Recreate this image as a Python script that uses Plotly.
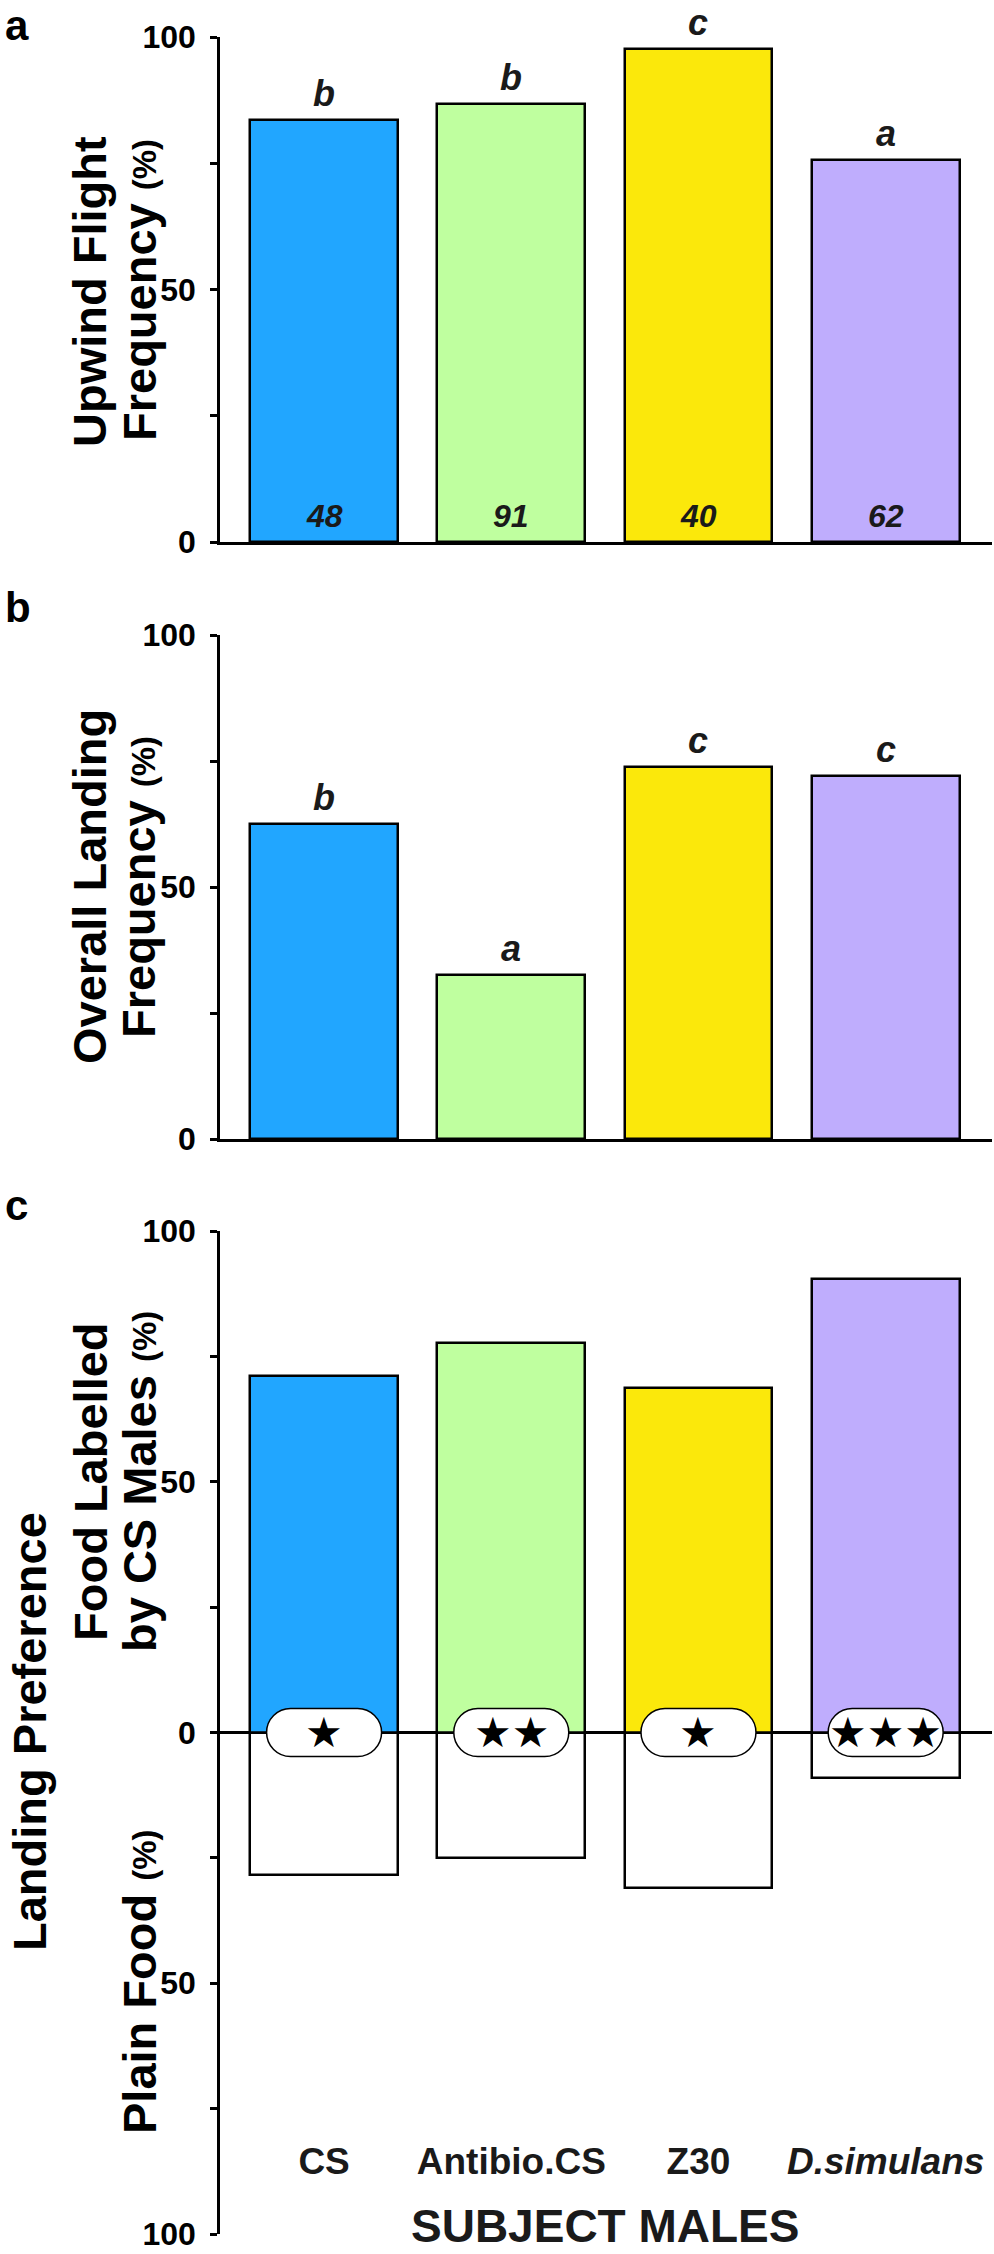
import plotly.graph_objects as go

# ---------------- data ----------------
categories = ["CS", "Antibio.CS", "Z30", "D.simulans"]
tick_labels = ["CS", "Antibio.CS", "Z30", "<i>D.simulans</i>"]
bar_colors = ["#21A6FF", "#BFFF9F", "#FBE80B", "#BFADFD"]

upwind = [83.5, 86.7, 97.6, 75.7]
upwind_letters = ["b", "b", "c", "a"]
upwind_n = ["48", "91", "40", "62"]

landing = [62.6, 32.5, 73.9, 72.1]
landing_letters = ["b", "a", "c", "c"]

labelled = [71.1, 77.6, 68.7, 90.5]
plain = [28.5, 25.1, 31.0, 9.1]
stars = ["★", "★★", "★", "★★★"]

yticks_ab = [0, 25, 50, 75, 100]
yticktext_ab = ["0", "", "50", "", "100"]
yticks_c = [-100, -75, -50, -25, 0, 25, 50, 75, 100]
yticktext_c = ["100", "", "50", "", "0", "", "50", "", "100"]

# ---------------- layout helpers ----------------
W, H = 994, 2254


def px(xp):
    return xp / W


def py(yp):
    return 1 - yp / H


FONT = "Liberation Sans"
xpos = list(range(len(categories)))
BAR_W = 0.79
XR = [-0.556, 3.568]
XDOM = [px(220), px(992)]

fig = go.Figure()

line_style = dict(color="black", width=2.5)
fig.add_trace(go.Bar(x=xpos, y=upwind, width=BAR_W, marker=dict(color=bar_colors, line=line_style),
                     xaxis="x", yaxis="y", showlegend=False, hoverinfo="skip"))
fig.add_trace(go.Bar(x=xpos, y=landing, width=BAR_W, marker=dict(color=bar_colors, line=line_style),
                     xaxis="x2", yaxis="y2", showlegend=False, hoverinfo="skip"))
fig.add_trace(go.Bar(x=xpos, y=labelled, width=BAR_W, marker=dict(color=bar_colors, line=line_style),
                     xaxis="x3", yaxis="y3", showlegend=False, hoverinfo="skip"))
fig.add_trace(go.Bar(x=xpos, y=[-v for v in plain], width=BAR_W, marker=dict(color="white", line=line_style),
                     xaxis="x3", yaxis="y3", showlegend=False, hoverinfo="skip"))

tickfont = dict(family=FONT, size=32, color="black", weight="bold")
yax_common = dict(showline=True, linewidth=2.5, linecolor="black", ticks="outside", ticklen=7, tickwidth=2.5,
                  tickcolor="black", showgrid=False, tickfont=tickfont, ticklabelstandoff=8, fixedrange=True,
                  automargin=False, ticklabeloverflow="allow")
xax_common = dict(domain=XDOM, range=XR, showgrid=False, zeroline=False, fixedrange=True, automargin=False)

fig.update_layout(
    template="none",
    width=W, height=H, margin=dict(l=0, r=0, t=0, b=0, pad=0, autoexpand=False),
    paper_bgcolor="white", plot_bgcolor="white", barmode="relative", bargap=0,
    xaxis=dict(**xax_common, anchor="y", showline=True, linewidth=2.5, linecolor="black", ticks="", showticklabels=False),
    yaxis=dict(**yax_common, domain=[py(542), py(37)], range=[0, 100], tickvals=yticks_ab, ticktext=yticktext_ab,
               zeroline=False, anchor="x"),
    xaxis2=dict(**xax_common, anchor="y2", showline=True, linewidth=2.5, linecolor="black", ticks="", showticklabels=False),
    yaxis2=dict(**yax_common, domain=[py(1139), py(635)], range=[0, 100], tickvals=yticks_ab, ticktext=yticktext_ab,
                zeroline=False, anchor="x2"),
    xaxis3=dict(**xax_common, anchor="free", position=py(2136), showline=False, ticks="",
                tickvals=xpos, ticktext=tick_labels, tickfont=dict(family=FONT, size=37, color="#1a1a1a", weight="bold")),
    yaxis3=dict(**yax_common, domain=[py(2234), py(1231)], range=[-100, 100], tickvals=yticks_c, ticktext=yticktext_c,
                zeroline=True, zerolinecolor="black", zerolinewidth=2.5, anchor="x3"),
)

ann = []
letter_font = dict(family=FONT, size=36, color="#1a1a1a", weight="bold", style="italic")
n_font = dict(family=FONT, size=32, color="#1a1a1a", weight="bold", style="italic")
for i in xpos:
    ann.append(dict(x=i, y=upwind[i], xref="x", yref="y", text=upwind_letters[i], showarrow=False,
                    yanchor="bottom", yshift=4, font=letter_font))
    ann.append(dict(x=i, y=0, xref="x", yref="y", text=upwind_n[i], showarrow=False,
                    yanchor="bottom", yshift=6, font=n_font))
    ann.append(dict(x=i, y=landing[i], xref="x2", yref="y2", text=landing_letters[i], showarrow=False,
                    yanchor="bottom", yshift=4, font=letter_font))
    ann.append(dict(x=i, y=0, xref="x3", yref="y3", text=stars[i], showarrow=False,
                    yanchor="middle", yshift=0, font=dict(family="DejaVu Sans", size=42, color="black")))

# x-axis title of panel c, centred under the categories
ann.append(dict(x=(xpos[0] + xpos[-1]) / 2, y=0, xref="x3", yref="paper", text="SUBJECT MALES",
                showarrow=False, xanchor="center", yanchor="bottom",
                font=dict(family=FONT, size=46, color="#1a1a1a", weight="bold")))

# pills behind the significance stars
half_len, rad = 33.5, 24
k = 0.5523 * rad
pill = (f"M {-half_len},{rad} L {half_len},{rad} "
        f"C {half_len + k},{rad} {half_len + rad},{k} {half_len + rad},0 "
        f"C {half_len + rad},{-k} {half_len + k},{-rad} {half_len},{-rad} "
        f"L {-half_len},{-rad} "
        f"C {-half_len - k},{-rad} {-half_len - rad},{-k} {-half_len - rad},0 "
        f"C {-half_len - rad},{k} {-half_len - k},{rad} {-half_len},{rad} Z")
shapes = []
for i in xpos:
    shapes.append(dict(type="path", xref="x3", yref="y3", xsizemode="pixel", ysizemode="pixel",
                       xanchor=i, yanchor=0, path=pill, fillcolor="white",
                       line=dict(color="black", width=1.5), layer="above"))

title_font = dict(family=FONT, size=47, color="black", weight="bold")
pct = "<span style='font-size:33px'>(%)</span>"


def ytitle(text, xp, yp):
    return dict(x=px(xp), y=py(yp), xref="paper", yref="paper", text=text, showarrow=False,
                textangle=-90, xanchor="center", yanchor="middle", font=title_font)


ann += [
    ytitle("Upwind Flight", 90, 292),
    ytitle("Frequency " + pct, 139, 290),
    ytitle("Overall Landing", 90, 887),
    ytitle("Frequency " + pct, 139, 887),
    ytitle("Food Labelled", 90, 1482),
    ytitle("by CS Males " + pct, 139, 1482),
    ytitle("Plain Food " + pct, 139, 1982),
    ytitle("Landing Preference", 29, 1732),
]

panel_font = dict(family=FONT, size=42, color="black", weight="bold")
for lab, ytop in [("a", 0), ("b", 582), ("c", 1180)]:
    ann.append(dict(x=px(3), y=py(ytop), xref="paper", yref="paper", text=lab, showarrow=False,
                    xanchor="left", yanchor="top", font=panel_font))

fig.update_layout(annotations=ann, shapes=shapes)
fig.write_html("out.html", config={"displayModeBar": False},
               post_script="document.body.style.margin='0';")
